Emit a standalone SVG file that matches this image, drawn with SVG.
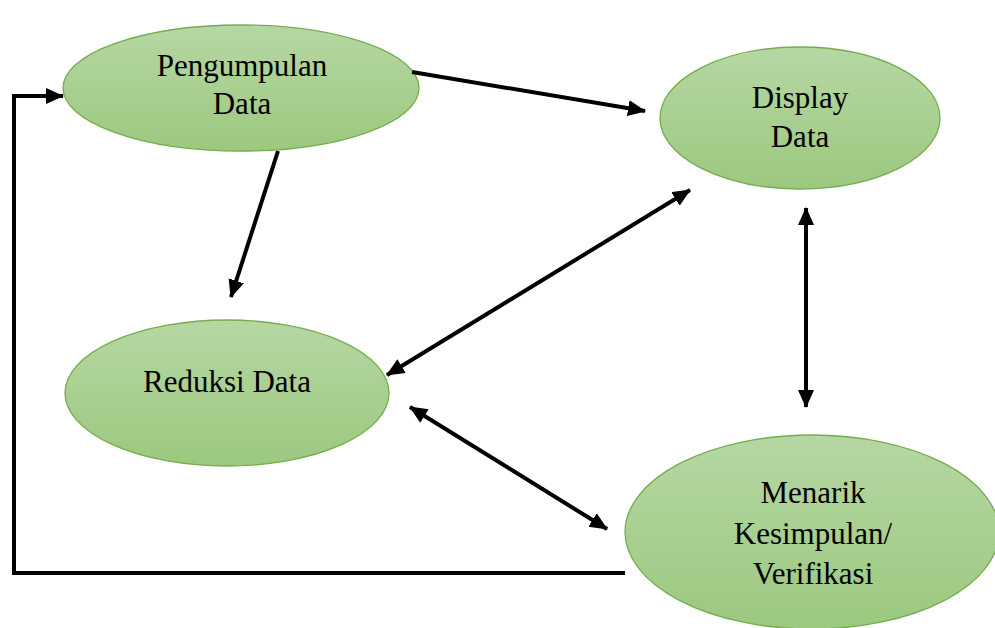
<svg xmlns="http://www.w3.org/2000/svg" width="995" height="628" viewBox="0 0 995 628">
<style>
.node{stroke:#74ad4e;stroke-width:1.3;fill:url(#g)}
.t{font-family:"Liberation Serif","Times New Roman",serif;font-size:31px;fill:#000;text-anchor:middle}
.c{stroke:#000;stroke-width:4;fill:none}
</style>
<defs>
<linearGradient id="g" x1="0" y1="0" x2="0" y2="1">
<stop offset="0" stop-color="#b6d7a3"/>
<stop offset="1" stop-color="#9cc87f"/>
</linearGradient>
<marker id="ae" markerUnits="userSpaceOnUse" markerWidth="20" markerHeight="18" refX="17" refY="8" orient="auto">
<path d="M0,0 L18,8 L0,16 Z" fill="#000"/>
</marker>
<marker id="as" markerUnits="userSpaceOnUse" markerWidth="20" markerHeight="18" refX="1" refY="8" orient="auto">
<path d="M18,0 L0,8 L18,16 Z" fill="#000"/>
</marker>
</defs>
<rect width="995" height="628" fill="#fff"/>
<g id="pengumpulan">
<ellipse class="node" cx="241" cy="88" rx="178" ry="63"/>
<text class="t" x="242" y="76">Pengumpulan</text>
<text class="t" x="242" y="114">Data</text>
</g>
<g id="display">
<ellipse class="node" cx="800" cy="118" rx="140" ry="71"/>
<text class="t" x="800" y="108">Display</text>
<text class="t" x="800" y="147">Data</text>
</g>
<g id="reduksi">
<ellipse class="node" cx="227" cy="393" rx="162" ry="73"/>
<text class="t" x="227" y="392">Reduksi Data</text>
</g>
<g id="menarik">
<ellipse class="node" cx="812" cy="532" rx="187" ry="97"/>
<text class="t" x="813" y="503">Menarik</text>
<text class="t" x="813" y="544">Kesimpulan/</text>
<text class="t" x="813" y="584">Verifikasi</text>
</g>
<g id="connectors">
<path class="c" d="M625,573 L14,573 L14,96 L63,96" marker-end="url(#ae)"/>
<path class="c" d="M412,72 L645,111" marker-end="url(#ae)"/>
<path class="c" d="M278,151 L231,297" marker-end="url(#ae)"/>
<path class="c" d="M387,375 L690,190" marker-start="url(#as)" marker-end="url(#ae)"/>
<path class="c" d="M806,208 L806,407" marker-start="url(#as)" marker-end="url(#ae)"/>
<path class="c" d="M410,407 L607,529" marker-start="url(#as)" marker-end="url(#ae)"/>
</g>
</svg>
